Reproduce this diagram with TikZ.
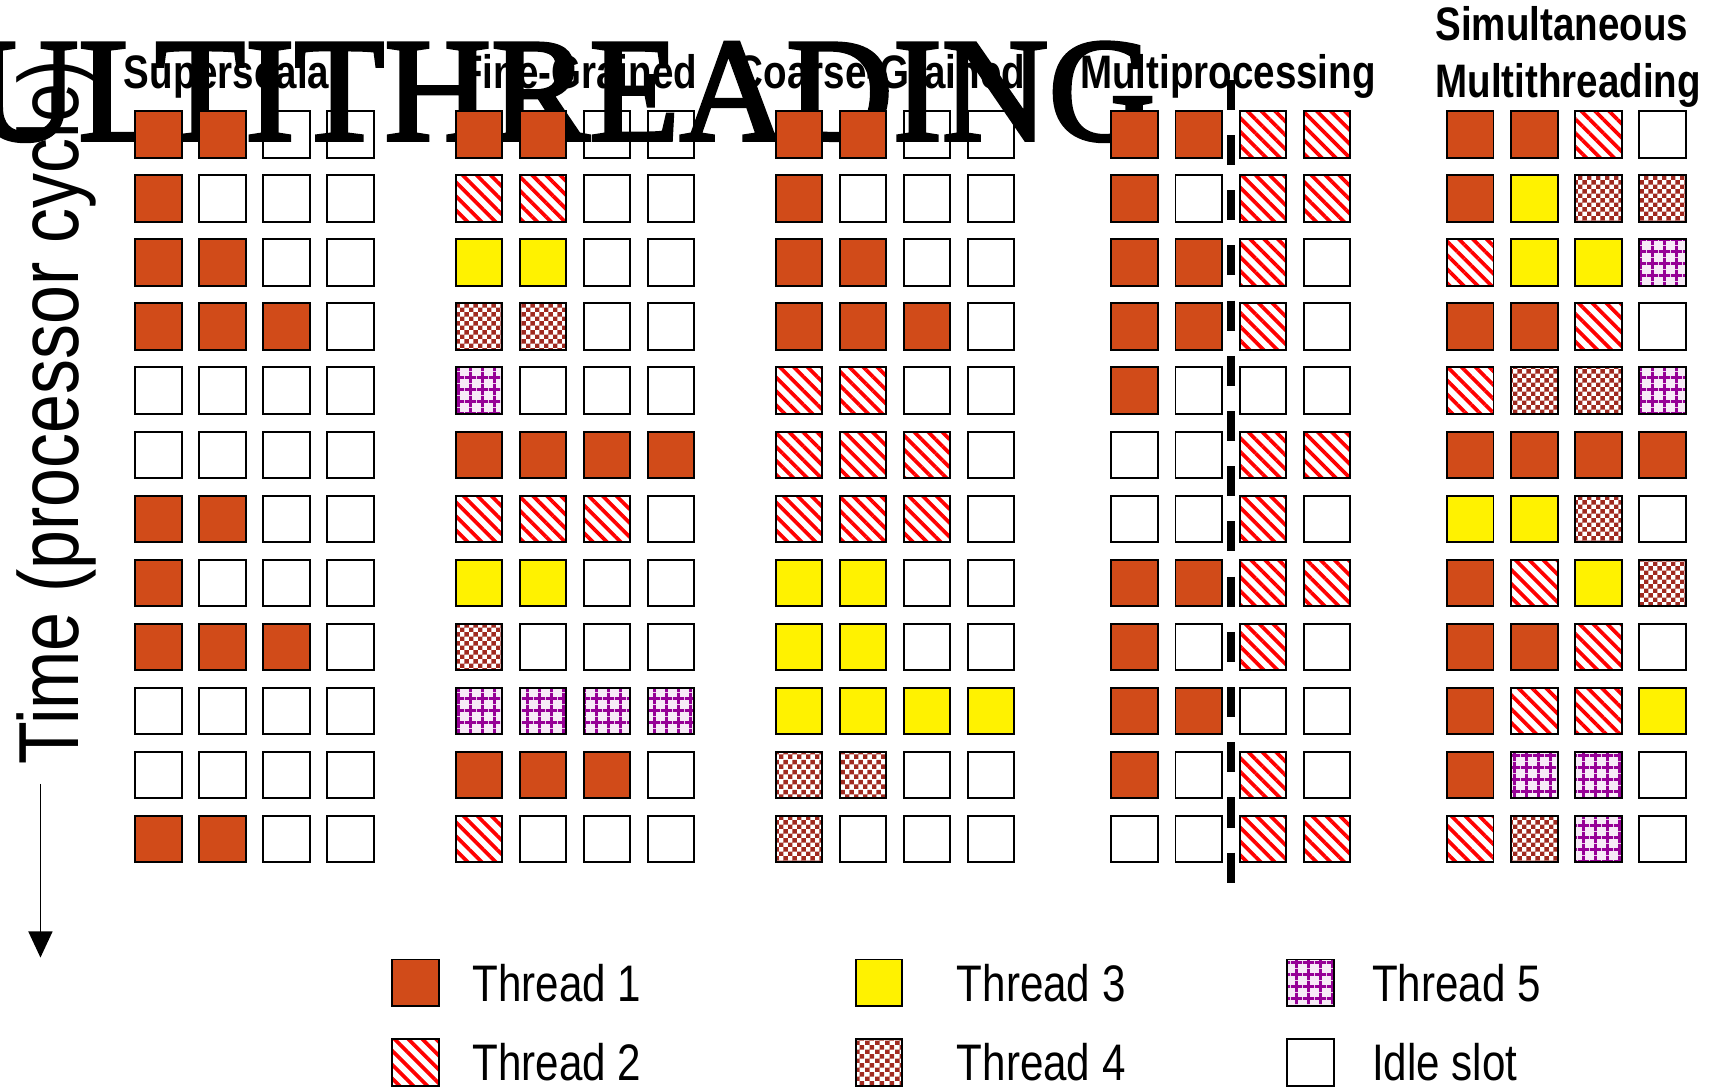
\documentclass[tikz,border=0pt]{standalone}
\usepackage{fontspec}
\usepackage{xcolor}
\usepackage{tikz}
\usetikzlibrary{arrows.meta,positioning,patterns,patterns.meta}

\newfontfamily\narrowfont[FakeStretch=0.82]{Liberation Sans}
\newfontfamily\titlefont[FakeBold=2.5]{Liberation Serif}

\definecolor{threadA}{RGB}{209,75,25}
\definecolor{threadD}{RGB}{160,42,32}
\definecolor{threadE}{RGB}{150,0,150}

% small checker tiles for thread 4
\pgfdeclarepatternformonly{checks}{\pgfpointorigin}{\pgfpoint{8.6pt}{8.6pt}}{\pgfpoint{8.6pt}{8.6pt}}{%
  \pgfpathrectangle{\pgfpointorigin}{\pgfpoint{4.3pt}{4.3pt}}%
  \pgfpathrectangle{\pgfpoint{4.3pt}{4.3pt}}{\pgfpoint{4.3pt}{4.3pt}}%
  \pgfusepath{fill}}

% one 12x4 block of issue slots: name, left x, rows
\newcommand{\slotgrid}[3]{%
  \foreach \cells [count=\ri] in {#3} {
    \foreach \v [count=\ci] in \cells {
      \node[slot,t\v] (#1-\ri-\ci) at ({#2+22+58.6*(\ci-1)},{123+58.6*(\ri-1)}) {};
    }
  }}

\begin{document}
\begin{tikzpicture}[x=1pt,y=-1pt,
  slot/.style={rectangle,draw,line width=1.8pt,minimum size=42.5pt,inner sep=0pt},
  t0/.style={},
  t1/.style={fill=threadA},
  t2/.style={preaction={fill=white},pattern={Lines[angle=-45,distance=9pt,line width=3.4pt]},pattern color=red},
  t3/.style={fill=yellow},
  t4/.style={preaction={fill=white},pattern=checks,pattern color=threadD},
  t5/.style={preaction={fill=threadE!8},pattern={Hatch[distance=10.5pt,line width=2.7pt]},pattern color=threadE},
  head/.style={anchor=base west,inner sep=0pt,font=\narrowfont\bfseries\fontsize{43}{50}\selectfont},
  lbl/.style={anchor=west,inner sep=0pt,font=\narrowfont\fontsize{47}{55}\selectfont},
  sep/.style={line width=7pt,dash pattern=on 27.5pt off 23pt},
  arr/.style={-{Triangle[width=22pt,length=24pt]},line width=1.5pt}
]
\useasboundingbox (0,0) rectangle (1568,997);

\node[anchor=base west,inner sep=0pt,font=\titlefont\fontsize{135}{135}\selectfont] (title) at (-146,128) {MULTITHREADING};

% slot grids
\slotgrid{ss}{123}{{1,1,0,0},{1,0,0,0},{1,1,0,0},{1,1,1,0},{0,0,0,0},{0,0,0,0},
  {1,1,0,0},{1,0,0,0},{1,1,1,0},{0,0,0,0},{0,0,0,0},{1,1,0,0}}
\slotgrid{fg}{416}{{1,1,0,0},{2,2,0,0},{3,3,0,0},{4,4,0,0},{5,0,0,0},{1,1,1,1},
  {2,2,2,0},{3,3,0,0},{4,0,0,0},{5,5,5,5},{1,1,1,0},{2,0,0,0}}
\slotgrid{cg}{709}{{1,1,0,0},{1,0,0,0},{1,1,0,0},{1,1,1,0},{2,2,0,0},{2,2,2,0},
  {2,2,2,0},{3,3,0,0},{3,3,0,0},{3,3,3,3},{4,4,0,0},{4,0,0,0}}
\slotgrid{mp}{1016}{{1,1,2,2},{1,0,2,2},{1,1,2,0},{1,1,2,0},{1,0,0,0},{0,0,2,2},
  {0,0,2,0},{1,1,2,2},{1,0,2,0},{1,1,0,0},{1,0,2,0},{0,0,2,2}}
\slotgrid{smt}{1323}{{1,1,2,0},{1,3,4,4},{2,3,3,5},{1,1,2,0},{2,4,4,5},{1,1,1,1},
  {3,3,4,0},{1,2,3,4},{1,1,2,0},{1,2,2,3},{1,5,5,0},{2,4,5,0}}

% column headings
\node[head] (hss) at (113,81) {Superscalar};
\node[head] (hfg) at (420,81) {Fine-Grained};
\node[head] (hcg) at (673,81) {Coarse-Grained};
\node[head] (hmp) at (988,81) {Multiprocessing};
\node[head] (hsmta) at (1313,37) {Simultaneous};
\node[head] (hsmtb) at (1313,89) {Multithreading};

% processor split
\coordinate (septop) at (1126,73);
\coordinate (sepbot) at (1126,818);
\draw[sep] (septop) -- (sepbot);

% time axis
\node[rotate=90,anchor=base west,inner sep=0pt,font=\narrowfont\fontsize{78}{80}\selectfont] (tlabel) at (72,700) {Time (processor cycle)};
\coordinate (ttop) at (37,717);
\coordinate (tbot) at (37,876);
\draw[arr] (ttop) -- (tbot);

% legend
\node[slot,t1] (leg1) at (380,899) {};
\node[slot,t2] (leg2) at (380,972) {};
\node[slot,t3] (leg3) at (804,899) {};
\node[slot,t4] (leg4) at (804,972) {};
\node[slot,t5] (leg5) at (1199,899) {};
\node[slot,t0] (leg6) at (1199,972) {};
\node[lbl,right=30pt of leg1] {Thread 1};
\node[lbl,right=30pt of leg2] {Thread 2};
\node[lbl,right=49pt of leg3] {Thread 3};
\node[lbl,right=49pt of leg4] {Thread 4};
\node[lbl,right=34pt of leg5] {Thread 5};
\node[lbl,right=34pt of leg6] {Idle slot};
\end{tikzpicture}
\end{document}
